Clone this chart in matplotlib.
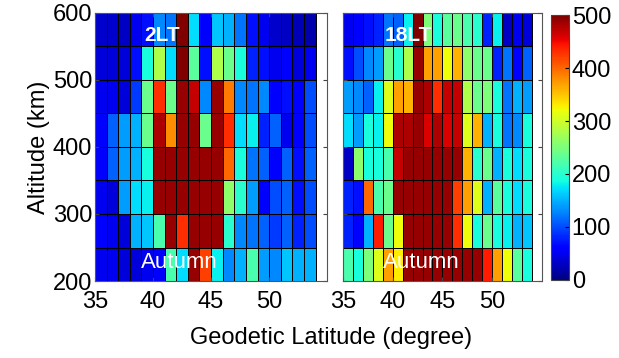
import numpy as np
import matplotlib.pyplot as plt

plt.rcParams['font.family'] = ['Liberation Sans', 'DejaVu Sans']

# latitude bin edges (1 degree) and altitude bin edges (50 km)
lat_edges = np.arange(35, 55, 1)
alt_edges = np.arange(200, 601, 50)

# 2LT, rows from 200-250 km (bottom) to 550-600 km (top), 19 latitude bins
lt2 = [
    [50, 50, 40, 40, 50, 60, 220, 170, 490, 420, 180, 130, 150, 220, 140, 130, 160, 150, 150],
    [60, 50, 40, 150, 160, 220, 490, 430, 490, 490, 490, 200, 130, 120, 110, 90, 110, 80, 100],
    [50, 40, 140, 170, 180, 490, 490, 490, 490, 490, 490, 260, 200, 140, 60, 100, 110, 70, 100],
    [60, 110, 140, 150, 190, 490, 490, 490, 490, 490, 490, 400, 190, 120, 110, 60, 110, 70, 110],
    [60, 110, 140, 150, 240, 480, 380, 490, 490, 240, 490, 430, 170, 180, 80, 110, 50, 60, 100],
    [50, 50, 40, 90, 240, 430, 240, 490, 470, 130, 490, 390, 130, 120, 130, 60, 70, 60, 100],
    [40, 40, 40, 70, 190, 280, 170, 500, 230, 70, 280, 240, 190, 80, 70, 50, 60, 40, 50],
    [35, 35, 30, 50, 70, 130, 120, 500, 170, 60, 160, 150, 120, 70, 50, 35, 30, 25, 20],
]

# 18LT
lt18 = [
    [220, 190, 250, 310, 370, 330, 490, 490, 490, 490, 490, 490, 490, 490, 440, 370, 320, 230, 190],
    [80, 60, 150, 440, 240, 320, 490, 490, 490, 490, 490, 430, 320, 190, 240, 190, 180, 150, 160],
    [80, 70, 400, 220, 240, 490, 490, 490, 490, 490, 490, 420, 370, 310, 150, 230, 190, 170, 190],
    [30, 260, 190, 190, 220, 470, 490, 490, 490, 490, 490, 490, 360, 200, 240, 150, 190, 170, 190],
    [170, 140, 190, 180, 320, 480, 480, 490, 460, 480, 460, 470, 310, 360, 150, 190, 120, 130, 190],
    [140, 130, 110, 180, 310, 370, 360, 490, 480, 430, 470, 470, 280, 240, 250, 190, 120, 150, 140],
    [70, 100, 130, 140, 240, 200, 280, 490, 370, 370, 320, 360, 260, 240, 240, 80, 120, 60, 110],
    [50, 60, 70, 80, 120, 110, 180, 500, 250, 190, 230, 240, 220, 200, 80, 180, 30, 50, 40],
]

fig = plt.figure(figsize=(6.19, 3.58), dpi=100)
ax1 = fig.add_axes([0.1535, 0.215, 0.375, 0.749])
ax2 = fig.add_axes([0.554, 0.215, 0.3215, 0.749])
cax = fig.add_axes([0.890, 0.218, 0.029, 0.740])

labels = [('2LT', lt2), ('18LT', lt18)]
for ax, (name, vals) in zip([ax1, ax2], labels):
    mesh = ax.pcolormesh(lat_edges, alt_edges, np.array(vals), cmap='jet',
                         vmin=0, vmax=500, edgecolors='k', linewidth=0.5)
    ax.set_xlim(35, 55)
    ax.set_ylim(200, 600)
    ax.set_xticks([35, 40, 45, 50])
    ax.set_yticks([200, 300, 400, 500, 600])
    ax.tick_params(direction='in', length=3, labelsize=17, top=True, right=True,
                   color='#444444', pad=2)
    ax.tick_params(axis='x', pad=7)
    for s in ax.spines.values():
        s.set_color('#555555')
    ax.text(39.2, 567, name, color='white', fontsize=15, fontweight='bold',
            va='center')
    ax.text(39.0, 228, 'Autumn', color='white', fontsize=16, va='center')

ax2.set_yticklabels([])
ax1.set_ylabel('Altitude (km)', fontsize=17, labelpad=2)
fig.text(0.535, 0.04, 'Geodetic Latitude (degree)', fontsize=17, ha='center')

cb = fig.colorbar(mesh, cax=cax, ticks=[0, 100, 200, 300, 400, 500])
cb.ax.tick_params(labelsize=17, direction='in', length=3, pad=2)
cb.outline.set_color('#444444')

fig.savefig('out.png', dpi=100)
